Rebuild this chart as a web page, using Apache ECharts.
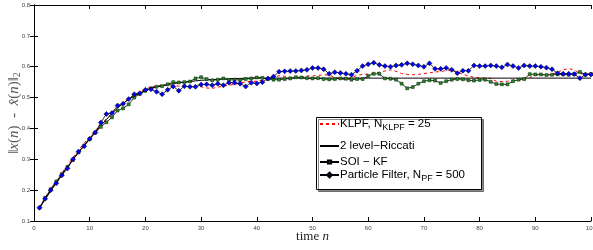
<!DOCTYPE html>
<html>
<head>
<meta charset="utf-8">
<script src="https://cdn.jsdelivr.net/npm/echarts@6/dist/echarts.min.js"></script>
<style>
  html, body { margin: 0; padding: 0; background: #fff; }
  #chart { width: 593px; height: 250px; }
</style>
</head>
<body>
<div id="chart"></div>
<script>
// time index n
const timeN = [1,2,3,4,5,6,7,8,9,10,11,12,13,14,15,16,17,18,19,20,
  21,22,23,24,25,26,27,28,29,30,31,32,33,34,35,36,37,38,39,40,
  41,42,43,44,45,46,47,48,49,50,51,52,53,54,55,56,57,58,59,60,
  61,62,63,64,65,66,67,68,69,70,71,72,73,74,75,76,77,78,79,80,
  81,82,83,84,85,86,87,88,89,90,91,92,93,94,95,96,97,98,99,100]

const klpf = [0.145,0.175,0.203,0.230,0.256,0.281,0.306,0.330,0.352,0.373,
  0.393,0.412,0.431,0.450,0.467,0.482,0.496,0.508,0.518,0.527,
  0.534,0.538,0.540,0.540,0.539,0.537,0.536,0.536,0.538,0.535,
  0.531,0.530,0.534,0.537,0.540,0.543,0.547,0.551,0.553,0.553,
  0.556,0.560,0.565,0.571,0.569,0.566,0.567,0.568,0.570,0.570,
  0.572,0.574,0.572,0.566,0.560,0.559,0.565,0.572,0.575,0.576,
  0.580,0.582,0.586,0.590,0.585,0.578,0.575,0.574,0.575,0.578,
  0.580,0.583,0.584,0.588,0.590,0.583,0.575,0.570,0.566,0.564,
  0.563,0.562,0.553,0.552,0.553,0.556,0.557,0.558,0.565,0.572,
  0.574,0.573,0.576,0.582,0.590,0.594,0.590,0.578,0.576,0.578]

const riccati = [0.142,0.170,0.197,0.224,0.250,0.275,0.299,0.323,0.346,0.368,
  0.389,0.409,0.429,0.448,0.466,0.481,0.494,0.505,0.514,0.522,
  0.529,0.535,0.539,0.542,0.545,0.548,0.550,0.552,0.554,0.556,
  0.557,0.558,0.559,0.560,0.561,0.562,0.562,0.563,0.563,0.563,
  0.563,0.563,0.563,0.563,0.563,0.563,0.563,0.563,0.563,0.563,
  0.563,0.563,0.563,0.563,0.563,0.563,0.563,0.563,0.563,0.563,
  0.563,0.563,0.563,0.563,0.563,0.563,0.563,0.563,0.563,0.563,
  0.563,0.563,0.563,0.563,0.563,0.563,0.563,0.563,0.563,0.563,
  0.563,0.563,0.563,0.563,0.563,0.563,0.563,0.563,0.563,0.563,
  0.563,0.563,0.563,0.563,0.563,0.563,0.563,0.563,0.563,0.563]

const soiKf = [0.143,0.175,0.203,0.228,0.252,0.275,0.298,0.322,0.344,0.366,
  0.386,0.405,0.420,0.436,0.458,0.465,0.478,0.500,0.512,0.522,
  0.530,0.535,0.537,0.543,0.550,0.549,0.550,0.552,0.562,0.566,
  0.560,0.556,0.558,0.562,0.557,0.558,0.557,0.560,0.562,0.565,
  0.564,0.560,0.558,0.558,0.560,0.562,0.566,0.565,0.563,0.562,
  0.563,0.560,0.559,0.560,0.562,0.561,0.558,0.560,0.560,0.570,
  0.577,0.577,0.562,0.561,0.558,0.545,0.530,0.534,0.545,0.553,
  0.556,0.555,0.547,0.553,0.558,0.560,0.559,0.556,0.555,0.557,
  0.558,0.551,0.544,0.543,0.543,0.553,0.558,0.560,0.576,0.575,
  0.575,0.573,0.574,0.575,0.575,0.574,0.576,0.583,0.575,0.576]

const particleFilter = [0.143,0.172,0.200,0.222,0.248,0.270,0.300,0.325,0.342,0.366,
  0.387,0.419,0.447,0.450,0.474,0.480,0.495,0.511,0.514,0.525,
  0.527,0.519,0.511,0.525,0.536,0.522,0.537,0.535,0.535,0.542,
  0.543,0.540,0.545,0.540,0.548,0.548,0.545,0.536,0.548,0.546,
  0.550,0.562,0.568,0.584,0.585,0.586,0.586,0.588,0.590,0.596,
  0.596,0.592,0.577,0.582,0.580,0.577,0.574,0.587,0.602,0.608,
  0.613,0.606,0.602,0.600,0.604,0.606,0.611,0.608,0.604,0.600,
  0.611,0.593,0.593,0.596,0.590,0.579,0.587,0.587,0.604,0.602,
  0.602,0.604,0.602,0.598,0.607,0.602,0.596,0.604,0.602,0.602,
  0.600,0.597,0.592,0.579,0.577,0.577,0.576,0.563,0.574,0.575]

const seriesNames = ['KLPF', '2 level-Riccati', 'SOI - KF', 'Particle Filter']
const legendTexts = {
    'KLPF': '{a|KLPF, N}{s|KLPF}{a| = 25}',
    '2 level-Riccati': '{a|2 level\u2212Riccati}',
    'SOI - KF': '{a|SOI \u2212 KF}',
    'Particle Filter': '{a|Particle Filter, N}{s|PF}{a| = 500}'
}
const legendTops = [118, 140, 156, 169]
const legendSymbolSizes = [6, 6, 4, 6]
const legendSymbolOpacity = [0, 0, 1, 1]

function pairs(vals) {
    const out = []
    for (let i = 0; i < vals.length; i++) {
        out.push([timeN[i], vals[i]])
    }
    return out
}

const tickFont = { fontSize: 6, color: '#444', fontFamily: 'Liberation Sans' }
const legendRich = {
    a: { fontSize: 11.5, fontFamily: 'Liberation Sans', color: '#000', lineHeight: 13 },
    s: { fontSize: 9, fontFamily: 'Liberation Sans', color: '#000', padding: [7, 0, 0, 0] }
}

const legends = seriesNames.map((name, i) => ({
    data: [name],
    left: 319,
    top: legendTops[i],
    itemWidth: 19,
    itemHeight: legendSymbolSizes[i],
    itemGap: 2,
    padding: 0,
    z: 110,
    itemStyle: { opacity: legendSymbolOpacity[i] },
    formatter: n => legendTexts[n],
    textStyle: { rich: legendRich, padding: [0, 0, 0, -4] },
    selectedMode: false
}))

const chart = echarts.init(document.getElementById('chart'))
chart.setOption({
    animation: false,
    backgroundColor: '#fff',
    grid: { left: 34, right: 2, top: 5, bottom: 29, outerBoundsMode: 'none', containLabel: false },
    legend: legends,
    graphic: [{
        type: 'rect',
        z: 100,
        shape: { x: 316.5, y: 117.5, width: 165, height: 72 },
        style: { fill: '#fff', stroke: '#000', lineWidth: 1, shadowColor: 'rgba(0,0,0,0.45)', shadowOffsetX: 2, shadowOffsetY: 2, shadowBlur: 0 }
    }],
    xAxis: [{
        type: 'value', min: 0, max: 100, interval: 10, position: 'bottom',
        name: '{t|time }{i|n}', nameLocation: 'middle', nameGap: 9, nameMoveOverlap: false,
        nameTextStyle: { rich: {
            t: { fontSize: 13, fontFamily: 'Liberation Serif', color: '#222' },
            i: { fontSize: 13, fontFamily: 'Liberation Serif', fontStyle: 'italic', color: '#222' }
        } },
        axisLine: { lineStyle: { color: '#000', width: 1 } },
        axisTick: { inside: true, length: 4, lineStyle: { color: '#000' } },
        axisLabel: Object.assign({ margin: 4 }, tickFont),
        splitLine: { show: false }
    }, {
        type: 'value', min: 0, max: 100, interval: 10, position: 'top',
        axisLine: { lineStyle: { color: '#000', width: 1 } },
        axisTick: { inside: true, length: 4, lineStyle: { color: '#000' } },
        axisLabel: { show: false },
        splitLine: { show: false }
    }],
    yAxis: [{
        type: 'value', min: 0.1, max: 0.8, interval: 0.1, position: 'left',
        name: '{r|\u2016}{i|x}{r|(}{i|n}{r|)  -  }{i|x\u0302}{r|(}{i|n}{r|)\u2016}{s|2}',
        nameLocation: 'middle', nameRotate: 90, nameGap: 12, nameMoveOverlap: false,
        nameTextStyle: { rich: {
            r: { fontSize: 15, fontFamily: 'Liberation Serif', color: '#555' },
            i: { fontSize: 15, fontFamily: 'Liberation Serif', fontStyle: 'italic', color: '#555' },
            s: { fontSize: 10, fontFamily: 'Liberation Serif', color: '#555', padding: [6, 0, 0, 0] }
        } },
        axisLine: { lineStyle: { color: '#000', width: 1 } },
        axisTick: { inside: true, length: 4, lineStyle: { color: '#000' } },
        axisLabel: Object.assign({ margin: 4, formatter: v => v.toFixed(1) }, tickFont),
        splitLine: { show: false }
    }, {
        type: 'value', min: 0.1, max: 0.8, interval: 0.1, position: 'right',
        axisLine: { show: true, lineStyle: { color: '#000', width: 1 } },
        axisTick: { show: true, inside: true, length: 4, lineStyle: { color: '#000' } },
        axisLabel: { show: false },
        splitLine: { show: false }
    }],
    series: [{
        name: 'KLPF', type: 'line', data: pairs(klpf),
        symbol: 'none', z: 3,
        lineStyle: { color: '#ff0000', width: 1, type: [3, 3] },
        itemStyle: { color: '#ff0000' }
    }, {
        name: '2 level-Riccati', type: 'line', data: pairs(riccati),
        symbol: 'none', z: 3,
        lineStyle: { color: '#000', width: 1 },
        itemStyle: { color: '#000' }
    }, {
        name: 'SOI - KF', type: 'line', data: pairs(soiKf),
        symbol: 'rect', symbolSize: 3, z: 4,
        lineStyle: { color: '#000', width: 0.8 },
        itemStyle: { color: '#1f8a1f', borderColor: '#000', borderWidth: 0.4 }
    }, {
        name: 'Particle Filter', type: 'line', data: pairs(particleFilter),
        symbol: 'diamond', symbolSize: 5, z: 5,
        lineStyle: { color: '#000', width: 0.8 },
        itemStyle: { color: '#0000ff', borderColor: '#000', borderWidth: 0.5 }
    }]
})
</script>
</body>
</html>
